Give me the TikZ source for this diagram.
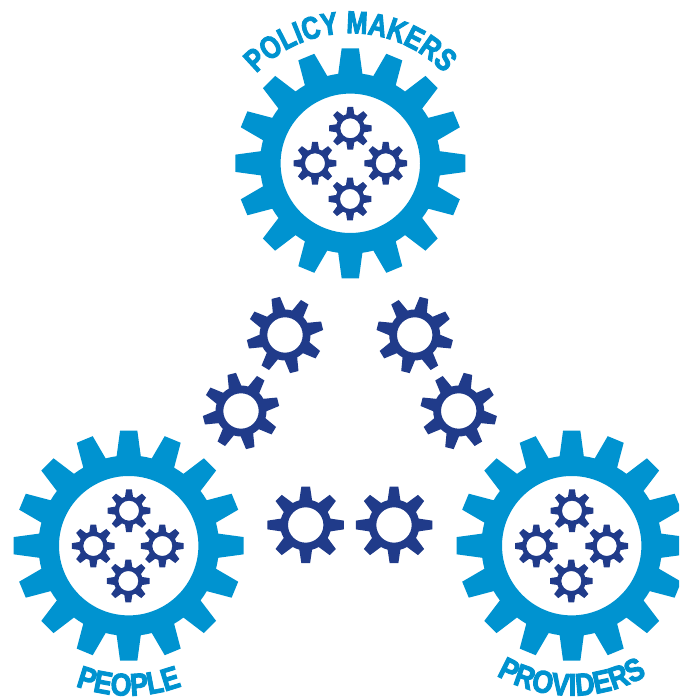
\documentclass[tikz,border=0pt]{standalone}
\usepackage{fontspec}
\usetikzlibrary{decorations.text}
\newfontfamily\lblfont[FakeStretch=0.8,FakeBold=3]{Liberation Sans Bold}
\newfontfamily\lowfont[FakeStretch=0.85,FakeBold=3]{Liberation Sans Bold}
\definecolor{cogblue}{HTML}{0093D0}
\definecolor{cognavy}{HTML}{203B8A}
% #1 x, #2 y, #3 rotation, #4 teeth, #5 tip r, #6 root r, #7 hole r, #8 tip half angle, #9 base half angle
\newcommand{\cogshape}[9]{%
  \begin{scope}[shift={(#1,#2)}]
  \pgfmathsetmacro{\cogstep}{360/#4}
  \pgfmathtruncatemacro{\coglast}{#4-1}
  \fill[even odd rule,cogstyle/.try] ({#3-#9}:#6)
    foreach \k [evaluate=\k as \a using #3+\k*\cogstep] in {0,...,\coglast} {
      -- ({\a-#8}:#5) -- ({\a+#8}:#5) -- ({\a+#9}:#6)
      arc[start angle={\a+#9}, end angle={\a+\cogstep-#9}, radius=#6]
    } -- cycle
    (0,0) circle[radius=#7];
  \end{scope}}
\newcommand{\bigcog}[2]{\begin{scope}[cogstyle/.style={cogblue}]\cogshape{#1}{#2}{0}{16}{115.3}{90.3}{69.7}{4.3}{7.7}\end{scope}}
\newcommand{\midcog}[3]{\begin{scope}[cogstyle/.style={cognavy}]\cogshape{#1}{#2}{#3}{8}{38.5}{25.5}{17.7}{6.5}{14.5}\end{scope}}
\newcommand{\tinycog}[2]{\begin{scope}[cogstyle/.style={cognavy}]\cogshape{#1}{#2}{0}{8}{21.5}{14.5}{10}{7.7}{16}\end{scope}}
\newcommand{\lblstyle}{\lblfont\fontsize{31.5}{32}\selectfont\color{cogblue}}
\newcommand{\lowstyle}{\lowfont\fontsize{31.5}{32}\selectfont\color{cogblue}}
\tikzset{
  toplabel/.style={decorate,decoration={text along path,text align=center,
    text={|\lblstyle|#1}}},
  lowlabel/.style={decorate,decoration={text along path,text align=center,
    text={|\lowstyle|#1}}}
}
\begin{document}
\begin{tikzpicture}[x=1pt,y=1pt]
\clip (0,0) rectangle (679,700);
\bigcog{350.3}{536.7}
\bigcog{128.7}{154.3}
\bigcog{571.7}{154.3}
\tinycog{350.3}{571.7}\tinycog{315}{536.7}\tinycog{385.7}{536.7}\tinycog{350}{501}
\tinycog{129}{189.3}\tinycog{93.3}{154}\tinycog{162.3}{154}\tinycog{128.3}{119}
\tinycog{572}{189.3}\tinycog{536.3}{154}\tinycog{606.7}{154}\tinycog{571.3}{119}
\midcog{285}{365}{14}
\midcog{241}{289}{14}
\midcog{414.7}{365}{-14}
\midcog{458.7}{289}{-14}
\midcog{305.7}{175}{0}
\midcog{394}{175}{0}
\path[toplabel={POLICY MAKERS}] (220.3,536.7) arc[start angle=180,end angle=0,radius=130];
\path[lowlabel={PEOPLE}] ({128.7+150*cos(225)},{154.3+150*sin(225)}) arc[start angle=225,end angle=315,radius=150];
\path[lowlabel={PROVIDERS}] ({571.7+150*cos(225)},{154.3+150*sin(225)}) arc[start angle=225,end angle=315,radius=150];
\end{tikzpicture}
\end{document}
